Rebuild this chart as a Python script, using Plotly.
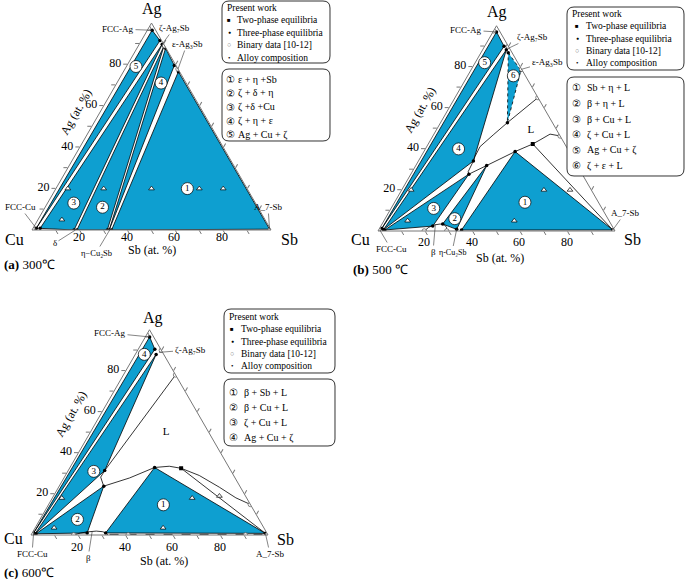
import math
import plotly.graph_objects as go

W, H = 685, 579
BLUE = "#0e9fd0"
SERIF = "Liberation Serif, Times New Roman, serif"

# ---------------- data: (Ag at.%, Sb at.%) ; Cu = 100 - Ag - Sb ----------------
# (a) 300 C
a_reg1 = [(76.5, 23.0), (0.0, 33.3), (0.4, 99.2)]
a_reg2 = [(88.8, 10.8), (0.0, 18.8), (0.0, 31.5)]
a_reg3 = [(89.8, 9.6), (0.8, 3.0), (0.0, 17.6)]
a_reg4 = [(87.8, 12.0), (0.0, 32.3), (79.5, 19.8)]
a_reg5 = [(96.5, 2.0), (0.8, 1.4), (91.5, 7.8)]
a_alloy = [(20, 5), (20, 20), (20, 40), (20, 60), (20, 70), (5, 10)]
a_binary = [(97.5, 0.0), (89.0, 11.0), (77.8, 22.2), (0.0, 99.6), (0.6, 0.0)]
a_twophase = []
a_nums = [(79, 4, "5"), (71, 18.5, "4"), (13, 11, "3"), (11, 24, "2"), (20, 55, "1")]

# (b) 500 C
b_reg1 = [(38.7, 38.5), (0.5, 35.0), (0.5, 98.8)]
b_reg2 = [(3.4, 25.6), (0.8, 32.8), (31.9, 29.9)]
b_reg3 = [(0.5, 2.6), (27.7, 24.5), (2.4, 21.9)]
b_reg4 = [(88.3, 10.0), (0.7, 2.0), (34.1, 23.2)]
b_reg5 = [(97.0, 1.5), (1.2, 1.0), (90.0, 8.2)]
b_reg6 = [(86.9, 11.5), (78.2, 21.2), (52.8, 28.2)]
b_liq_upper = [(65.0, 35.0), (52.8, 28.2), (46.8, 25.2), (41.1, 22.5), (36.2, 22.8),
               (34.1, 23.2), (28.9, 23.6), (27.7, 24.5)]
b_liq_lower = [(46.3, 53.7), (47.2, 49.0), (44.4, 46.2), (42.4, 44.1), (38.7, 38.5),
               (31.9, 29.9), (27.7, 24.5)]
b_beta = [(0.0, 19.5), (1.8, 20.5), (3.0, 22.5), (3.4, 24.5), (3.0, 26.5), (1.8, 28.0), (0.0, 29.0)]
b_tie = [(42.4, 44.1), (0.5, 98.8)]
b_alloy = [(20, 4), (5, 10), (20, 60), (5, 55), (20, 71)]
b_binary = [(97.5, 0.0), (90.0, 10.0), (78.8, 21.2), (65.0, 35.0), (46.3, 53.7),
            (0.0, 99.6), (0.6, 0.0), (0.0, 19.5), (0.0, 29.0)]
b_twophase = [(42.4, 44.1)]
b_nums = [(82, 4, "5"), (75.6, 19.3, "6"), (40, 14, "4"), (11, 18, "3"), (6, 29.4, "2"), (14, 55, "1")]
b_liquid_label = (49, 40)

# (c) 600 C
c_reg1 = [(32.9, 35.7), (1.0, 31.0), (0.8, 98.5)]
c_reg2 = [(0.6, 1.8), (23.8, 18.8), (1.0, 23.2)]
c_reg3 = [(88.0, 8.8), (0.6, 1.4), (31.4, 15.4)]
c_reg4 = [(96.5, 1.8), (1.0, 0.6), (90.5, 7.0)]
c_liq_left = [(78.0, 22.0), (31.4, 15.4), (28.2, 15.3), (24.9, 17.9), (23.8, 18.8)]
c_liq_lower = [(23.8, 18.8), (27.8, 27.7), (32.9, 35.7), (33.5, 41.6), (32.5, 47.1),
               (29.0, 56.5), (23.3, 67.8), (18.1, 77.4), (14.9, 85.1)]
c_beta = [(0.0, 18.0), (1.0, 20.5), (1.5, 22.9), (1.9, 26.6), (1.6, 29.5), (1.0, 31.0), (0.0, 32.5)]
c_tie = [(32.5, 47.1), (0.8, 98.5)]
c_dash = [(0.3, 33.0), (0.3, 97.5)]
c_alloy = [(18, 4), (3.5, 8), (18, 59), (3.5, 54), (19, 70)]
c_binary = [(97.5, 0.0), (90.0, 10.0), (78.0, 22.0), (14.9, 85.1), (0.0, 99.6),
            (0.6, 0.0), (0.0, 18.0), (0.0, 41.0), (0.0, 90.5)]
c_twophase = [(32.5, 47.1)]
c_nums = [(88, 3.8, "4"), (31, 11, "3"), (7.6, 15.8, "2"), (14.7, 48.5, "1")]
c_liquid_label = (50, 32)

# tick labels (Sb along the bottom edge, Ag along the left edge)
TICKS = [10, 20, 30, 40, 50, 60, 70, 80, 90]
SB_LABELS = [20, 40, 60, 80]

# ---------------- geometry of the three triangles (pixels) ----------------
GEOM = {"ternary": (32, 230, 239), "ternary2": (378, 231, 237), "ternary3": (31, 535, 237)}
S3 = math.sqrt(3) / 2


def domain(key):
    x0, yb, w = GEOM[key]
    h = w * S3
    return dict(x=[x0 / W, (x0 + w) / W], y=[1 - yb / H, 1 - (yb - h) / H])


def to_px(key, ag, sb):
    x0, yb, w = GEOM[key]
    h = w * S3
    return x0 + w * (sb + ag / 2) / 100, yb - h * ag / 100


def abc(pts, close=False):
    pts = list(pts) + ([pts[0]] if close else [])
    return ([p[0] for p in pts], [100 - p[0] - p[1] for p in pts], [p[1] for p in pts])


fig = go.Figure()


def add_poly(sub, pts, dash="solid"):
    a, b, c = abc(pts, close=True)
    fig.add_trace(go.Scatterternary(a=a, b=b, c=c, mode="lines", fill="toself", fillcolor=BLUE,
                                    line=dict(color="black", width=0.8, dash=dash),
                                    subplot=sub, showlegend=False, hoverinfo="skip"))


def add_line(sub, pts, dash="solid", color="black", width=0.8):
    a, b, c = abc(pts)
    fig.add_trace(go.Scatterternary(a=a, b=b, c=c, mode="lines",
                                    line=dict(color=color, width=width, dash=dash),
                                    subplot=sub, showlegend=False, hoverinfo="skip"))


def add_markers(sub, pts, symbol, size, color, lcolor, lwidth=0.8):
    if not pts:
        return
    a, b, c = abc(pts)
    fig.add_trace(go.Scatterternary(a=a, b=b, c=c, mode="markers",
                                    marker=dict(symbol=symbol, size=size, color=color,
                                                line=dict(color=lcolor, width=lwidth)),
                                    subplot=sub, showlegend=False, hoverinfo="skip"))


def add_nums(sub, nums):
    pts = [(n[0], n[1]) for n in nums]
    a, b, c = abc(pts)
    fig.add_trace(go.Scatterternary(a=a, b=b, c=c, mode="markers+text", text=[n[2] for n in nums],
                                    textposition="middle center",
                                    textfont=dict(family=SERIF, size=9, color="black"),
                                    marker=dict(symbol="circle", size=12, color="white",
                                                line=dict(color="black", width=0.7)),
                                    subplot=sub, showlegend=False, hoverinfo="skip"))


panels = [
    ("ternary", [a_reg1, a_reg2, a_reg3, a_reg4, a_reg5], [], a_alloy, a_binary, a_twophase, a_nums),
    ("ternary2", [b_reg1, b_reg2, b_reg3, b_reg4, b_reg5], [b_reg6], b_alloy, b_binary, b_twophase, b_nums),
    ("ternary3", [c_reg1, c_reg2, c_reg3, c_reg4], [], c_alloy, c_binary, c_twophase, c_nums),
]

extra_lines = {
    "ternary": [],
    "ternary2": [(b_liq_upper, "solid"), (b_liq_lower, "solid"), (b_beta, "solid"), (b_tie, "solid")],
    "ternary3": [(c_liq_left, "solid"), (c_liq_lower, "solid"), (c_beta, "solid"), (c_tie, "solid"),
                 (c_dash, "dash")],
}

for sub, regs, dregs, alloy, binary, two, nums in panels:
    for r in regs:
        add_poly(sub, r)
    for r in dregs:
        add_poly(sub, r, dash="dot")
    for pts, d in extra_lines[sub]:
        add_line(sub, pts, dash=d)
    verts = [p for r in regs + dregs for p in r]
    add_markers(sub, verts, "circle", 3.5, "black", "black", 0)
    add_markers(sub, binary, "circle", 4.5, "white", "#666", 0.8)
    add_markers(sub, two, "square", 4, "black", "black", 0)
    add_markers(sub, alloy, "triangle-up", 5, "white", "black", 0.7)
    add_nums(sub, nums)

for sub, (ag, sb) in [("ternary2", b_liquid_label), ("ternary3", c_liquid_label)]:
    fig.add_trace(go.Scatterternary(a=[ag], b=[100 - ag - sb], c=[sb], mode="text", text=["L"],
                                    textfont=dict(family=SERIF, size=11, color="black"),
                                    subplot=sub, showlegend=False, hoverinfo="skip"))

# ---------------- axes ----------------
lab = lambda v: str(v) if v % 20 == 0 else ""
AXCOL = "#777"


def tern_layout(key):
    common = dict(showgrid=False, linecolor=AXCOL, linewidth=1, ticks="outside", ticklen=4,
                  tickcolor=AXCOL, tickwidth=0.8, tickfont=dict(family=SERIF, size=12, color="black"),
                  title=dict(text=""))
    return dict(
        sum=100, bgcolor="white", domain=domain(key),
        aaxis=dict(tickmode="array", tickvals=TICKS, ticktext=[lab(v) for v in TICKS], **common),
        baxis=dict(tickmode="array", tickvals=[100 - v for v in TICKS], showticklabels=False, **common),
        caxis=dict(tickmode="array", tickvals=TICKS, showticklabels=False, **common),
    )


annotations = []


def txt(px, py, text, size=11, xanchor="center", angle=0, color="black"):
    annotations.append(dict(x=px / W, y=1 - py / H, xref="paper", yref="paper", text=text,
                            showarrow=False, xanchor=xanchor, yanchor="middle", textangle=angle,
                            font=dict(family=SERIF, size=size, color=color)))


def pointer(key, ag, sb, text, tx, ty, size=9):
    hx, hy = to_px(key, ag, sb)
    annotations.append(dict(x=hx / W, y=1 - hy / H, xref="paper", yref="paper", text=text,
                            showarrow=True, arrowhead=0, arrowwidth=0.6, arrowcolor="#333",
                            ax=tx - hx, ay=ty - hy, font=dict(family=SERIF, size=size, color="black")))


# corner names, Sb tick labels along the bottom edge
corner_pos = {
    "ternary": ((152, 9), (14, 239), (289, 239), 7),
    "ternary2": ((497, 12), (361, 239), (632, 240), 11),
    "ternary3": ((153, 318), (13, 538), (285, 539), 12),
}
for key, (pa, pc, ps, dy) in corner_pos.items():
    txt(*pa, "Ag", 16)
    txt(*pc, "Cu", 16)
    txt(*ps, "Sb", 16)
    yb = GEOM[key][1]
    for v in SB_LABELS:
        x, _ = to_px(key, 0, v)
        txt(x - 1, yb + dy, str(v), 12)

# axis captions and panel titles
txt(152, 250, "Sb (at. %)", 12)
txt(76, 112, "Ag (at. %)", 12, angle=-60)
txt(2, 265, "<b>(a)</b> 300℃", 13, xanchor="left")
txt(500, 258, "Sb (at. %)", 12)
txt(420, 110, "Ag (at. %)", 12, angle=-60)
txt(351, 269, "<b>(b)</b> 500 ℃", 13, xanchor="left")
txt(164, 561, "Sb (at. %)", 12)
txt(71, 414, "Ag (at. %)", 12, angle=-60)
txt(2, 572, "<b>(c)</b> 600℃", 13, xanchor="left")

# phase pointers
pointer("ternary", 96.5, 2.0, "FCC-Ag", 118, 29)
pointer("ternary", 89.8, 9.6, "ζ-Ag₇Sb", 174, 28)
pointer("ternary", 77.8, 22.2, "ε-Ag₃Sb", 187, 44)
pointer("ternary", 0.8, 1.4, "FCC-Cu", 20, 207)
pointer("ternary", 0.0, 18.2, "δ", 55, 243)
pointer("ternary", 0.0, 32.5, "η−Cu₂Sb", 96, 253, size=8.5)
pointer("ternary", 0.4, 99.2, "A_7-Sb", 268, 207)

pointer("ternary2", 97.0, 1.5, "FCC-Ag", 466, 30)
pointer("ternary2", 89.0, 10.5, "ζ-Ag₇Sb", 532, 37)
pointer("ternary2", 78.8, 21.2, "ε-Ag₃Sb", 547, 62)
pointer("ternary2", 0.5, 0.5, "FCC-Cu", 391, 249)
pointer("ternary2", 3.2, 22.6, "β", 433, 252)
pointer("ternary2", 0.8, 32.8, "η-Cu₂Sb", 452, 252, size=8)
pointer("ternary2", 0.5, 98.8, "A_7-Sb", 625, 213)

pointer("ternary3", 96.5, 1.8, "FCC-Ag", 110, 333)
pointer("ternary3", 89.0, 9.5, "ζ-Ag₇Sb", 190, 350)
pointer("ternary3", 1.0, 0.6, "FCC-Cu", 32, 554)
pointer("ternary3", 1.6, 25.0, "β", 88, 558)
pointer("ternary3", 0.8, 98.5, "A_7-Sb", 270, 554)

# ---------------- legend boxes ----------------
shapes = []


def rbox(x0, y0, x1, y1, r=7):
    def P(x, y):
        return f"{x / W:.5f},{1 - y / H:.5f}"
    path = (f"M {P(x0 + r, y0)} L {P(x1 - r, y0)} Q {P(x1, y0)} {P(x1, y0 + r)} "
            f"L {P(x1, y1 - r)} Q {P(x1, y1)} {P(x1 - r, y1)} L {P(x0 + r, y1)} "
            f"Q {P(x0, y1)} {P(x0, y1 - r)} L {P(x0, y0 + r)} Q {P(x0, y0)} {P(x0 + r, y0)} Z")
    shapes.append(dict(type="path", path=path, xref="paper", yref="paper",
                       line=dict(color="#333", width=1), fillcolor="white"))


legend_items = [("■", 6, "black", "Two-phase equilibria"),
                ("●", 5, "black", "Three-phase equilibria"),
                ("○", 7, "#777", "Binary data [10-12]"),
                ("•", 7, "black", "Alloy composition")]

a_phases = ["ε + η +Sb", "ζ + δ + η", "ζ +δ +Cu", "ζ + η + ε", "Ag + Cu + ζ"]
b_phases = ["Sb + η + L", "β + η + L", "β + Cu + L", "ζ + Cu + L", "Ag + Cu + ζ", "ζ + ε + L"]
c_phases = ["β + Sb + L", "β + Cu + L", "ζ + Cu + L", "Ag + Cu + ζ"]
circled = ["①", "②", "③", "④", "⑤", "⑥"]

box_specs = [
    ((222, 1, 330, 63), 8, 12.5, 229, 235, (222, 69, 330, 141), 79, 14, 224, 236, a_phases),
    ((567, 7, 684, 70), 14, 12.3, 577, 584, (567, 77, 684, 176), 88, 15.5, 570, 585, b_phases),
    ((224, 309, 335, 373), 317, 12.3, 232, 239, (224, 379, 335, 446), 392, 15.3, 227, 242, c_phases),
]

for (b1, y1, st1, gx, tx, b2, y2, st2, dx, ptx, phases) in box_specs:
    rbox(*b1)
    rbox(*b2)
    txt(b1[0] + 3, y1, "Present work", 9.5, xanchor="left")
    for i, (g, gs, gc, label) in enumerate(legend_items):
        yy = y1 + st1 * (i + 1)
        txt(gx, yy, g, gs, color=gc)
        txt(tx, yy, label, 9.5, xanchor="left")
    for i, ph in enumerate(phases):
        yy = y2 + st2 * i
        txt(dx, yy, circled[i], 10, xanchor="left")
        txt(ptx, yy, ph, 10, xanchor="left")

fig.update_layout(
    width=W, height=H, margin=dict(l=0, r=0, t=0, b=0, pad=0),
    paper_bgcolor="white", plot_bgcolor="white", showlegend=False, hovermode=False,
    ternary=tern_layout("ternary"), ternary2=tern_layout("ternary2"), ternary3=tern_layout("ternary3"),
    annotations=annotations, shapes=shapes,
    font=dict(family=SERIF, color="black"),
)

fig.write_html("out.html", config={"displayModeBar": False},
               post_script="document.body.style.margin='0px';document.body.style.overflow='hidden';")
